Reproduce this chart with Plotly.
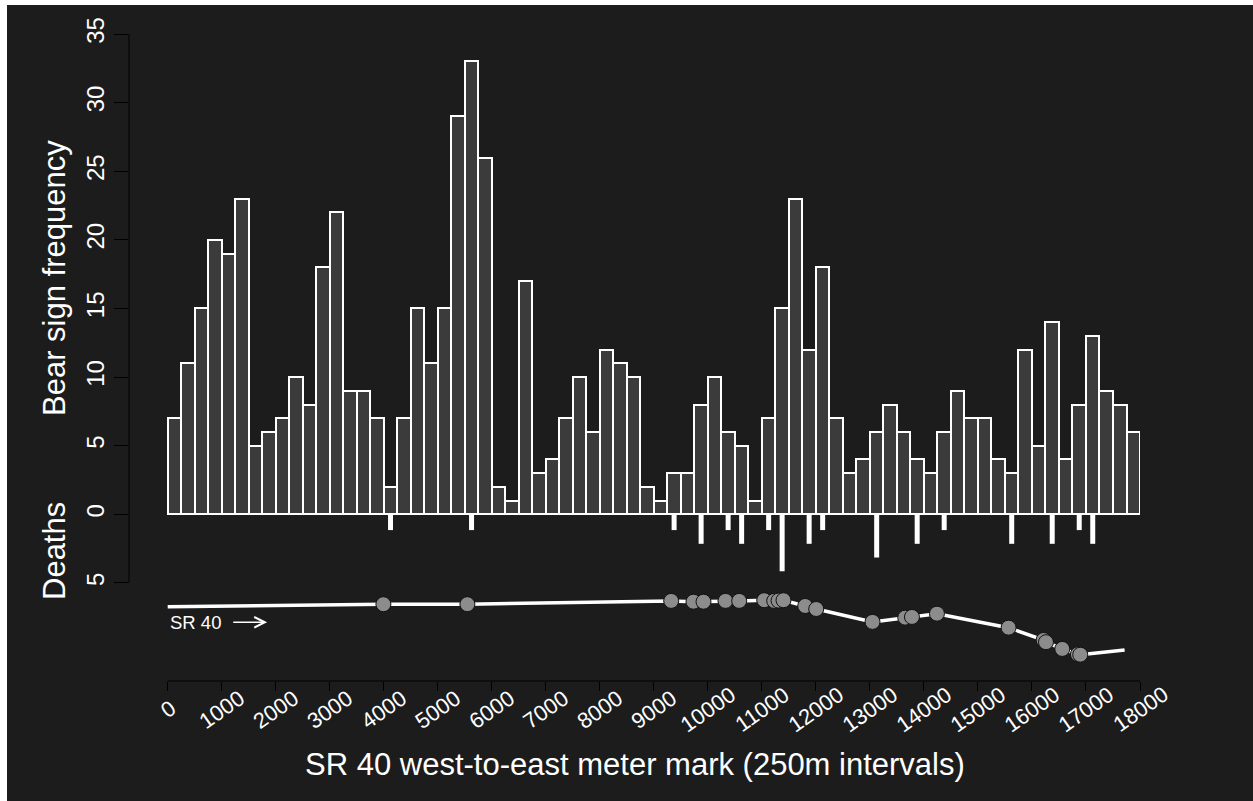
import plotly.graph_objects as go

# ---------------- data ----------------
BIN_WIDTH = 250
bear_sign = [7, 11, 15, 20, 19, 23, 5, 6, 7, 10, 8, 18, 22, 9, 9, 7, 2, 7, 15, 11,
             15, 29, 33, 26, 2, 1, 17, 3, 4, 7, 10, 6, 12, 11, 10, 2, 1, 3, 3, 8,
             10, 6, 5, 1, 7, 15, 23, 12, 18, 7, 3, 4, 6, 8, 6, 4, 3, 6, 9, 7,
             7, 4, 3, 12, 5, 14, 4, 8, 13, 9, 8, 6]
bar_x = [BIN_WIDTH * i + BIN_WIDTH / 2 for i in range(len(bear_sign))]

death_m = [4125, 5625, 9375, 9875, 10375, 10625, 11125, 11375, 11875, 12125,
           13125, 13875, 14375, 15625, 16375, 16875, 17125]
death_n = [1, 1, 1, 2, 1, 2, 1, 4, 2, 1, 3, 2, 1, 2, 2, 1, 2]

# road profile (schematic, in y-axis units below the deaths scale)
road_x = [0, 3993, 5548, 9321, 9733, 9919, 10326, 10580, 11043, 11228, 11308, 11400,
          11802, 12006, 13048, 13654, 13778, 14241, 15567, 16215, 16259, 16561,
          16850, 16894, 17715]
road_y = [-6.73, -6.55, -6.55, -6.31, -6.37, -6.37, -6.31, -6.31, -6.26, -6.31, -6.29,
          -6.26, -6.68, -6.90, -7.84, -7.53, -7.48, -7.24, -8.26, -9.16, -9.32, -9.81,
          -10.20, -10.23, -9.88]
kill_x = [3993, 5548, 9321, 9733, 9919, 10326, 10580, 11043, 11228, 11308, 11400,
          11802, 12006, 13048, 13654, 13778, 14241, 15567, 16215, 16259, 16561,
          16850, 16894]
kill_y = [-6.55, -6.55, -6.31, -6.37, -6.37, -6.31, -6.31, -6.26, -6.31, -6.29, -6.26,
          -6.68, -6.90, -7.84, -7.53, -7.48, -7.24, -8.26, -9.16, -9.32, -9.81,
          -10.20, -10.23]

x_ticks = list(range(0, 18001, 1000))
y_tickvals = [-5, 0, 5, 10, 15, 20, 25, 30, 35]
y_ticktext = ["5", "0", "5", "10", "15", "20", "25", "30", "35"]

# ---------------- styling ----------------
BG = "#1c1c1c"
BAR_FILL = "#3b3b3b"
FONT = "Arial, 'Liberation Sans', sans-serif"

fig = go.Figure()

fig.add_trace(go.Bar(
    x=bar_x, y=bear_sign, width=BIN_WIDTH,
    marker=dict(color=BAR_FILL, line=dict(color="white", width=2)),
    hoverinfo="skip", showlegend=False))

# death ticks below zero
dx, dy = [], []
for m, n in zip(death_m, death_n):
    dx += [m, m, None]
    dy += [0, -n - 0.15, None]
fig.add_trace(go.Scatter(x=dx, y=dy, mode="lines",
                         line=dict(color="white", width=5),
                         hoverinfo="skip", showlegend=False))

# road line
fig.add_trace(go.Scatter(x=road_x, y=road_y, mode="lines",
                         line=dict(color="white", width=3.5),
                         hoverinfo="skip", showlegend=False))
fig.add_trace(go.Scatter(x=kill_x, y=kill_y, mode="markers",
                         marker=dict(size=15, color="#8c8c8c",
                                     line=dict(color="#101010", width=1)),
                         hoverinfo="skip", showlegend=False))

L, R, T, B = 129, 113, 34, 120
W, H = 1253, 801
pw, ph = W - L - R, H - T - B


def px_x(p):
    return (p - L) / pw


def px_y(p):
    return (H - B - p) / ph


shapes = [
    # y axis line (only from -5 to 35)
    dict(type="line", xref="paper", yref="y", x0=0, x1=0, y0=-5, y1=35,
         line=dict(color="black", width=1)),
    # x axis line (0 to 18000)
    dict(type="line", xref="x", yref="paper", x0=0, x1=18000, y0=0, y1=0,
         line=dict(color="black", width=1)),
    # white border strips top / left
    dict(type="rect", xref="paper", yref="paper", x0=px_x(0), x1=px_x(7),
         y0=px_y(H), y1=px_y(0), fillcolor="white", line=dict(width=0), layer="above"),
    dict(type="rect", xref="paper", yref="paper", x0=px_x(0), x1=px_x(W),
         y0=px_y(5), y1=px_y(0), fillcolor="white", line=dict(width=0), layer="above"),
]

annotations = []
for t in x_ticks:
    annotations.append(dict(x=t, xref="x", y=px_y(709), yref="paper",
                            text=str(t), showarrow=False, textangle=-35,
                            xanchor="center", yanchor="middle",
                            font=dict(size=22, color="white", family=FONT)))

annotations += [
    dict(x=px_x(54), y=px_y(278), xref="paper", yref="paper", text="Bear sign frequency",
         showarrow=False, textangle=-90, xanchor="center", yanchor="middle",
         font=dict(size=31, color="white", family=FONT)),
    dict(x=px_x(54), y=px_y(551), xref="paper", yref="paper", text="Deaths",
         showarrow=False, textangle=-90, xanchor="center", yanchor="middle",
         font=dict(size=31, color="white", family=FONT)),
    dict(x=px_x(635), y=px_y(765), xref="paper", yref="paper",
         text="SR 40 west-to-east meter mark (250m intervals)",
         showarrow=False, xanchor="center", yanchor="middle",
         font=dict(size=31, color="white", family=FONT)),
    dict(x=0, y=-7.87, xref="x", yref="y", text="SR 40", showarrow=False,
         xanchor="left", yanchor="middle",
         font=dict(size=18.5, color="white", family=FONT)),
    dict(x=1840, y=-7.87, ax=1185, ay=-7.87, xref="x", yref="y", axref="x", ayref="y",
         text="", showarrow=True, arrowhead=5, arrowsize=1.3, arrowwidth=1.6,
         arrowcolor="white"),
]

fig.update_layout(
    width=W, height=H,
    margin=dict(l=L, r=R, t=T, b=B, pad=0),
    paper_bgcolor=BG, plot_bgcolor=BG,
    font=dict(family=FONT, color="white"),
    bargap=0,
    shapes=shapes,
    annotations=annotations,
    xaxis=dict(range=[-(38.7 / 54) * 1000, 18000], tickvals=x_ticks,
               showticklabels=False, ticks="outside", ticklen=9, tickcolor="black",
               tickwidth=1, showgrid=False, zeroline=False, showline=False,
               fixedrange=True),
    yaxis=dict(range=[-12.147, 35], tickvals=y_tickvals, ticktext=y_ticktext,
               ticks="outside", ticklen=14, tickcolor="black", tickwidth=1,
               tickangle=-90, tickfont=dict(size=24, color="white", family=FONT),
               showgrid=False, zeroline=False, showline=False, fixedrange=True),
)

fig.write_html("out.html", config={"displayModeBar": False},
               post_script="document.body.style.margin='0';")
